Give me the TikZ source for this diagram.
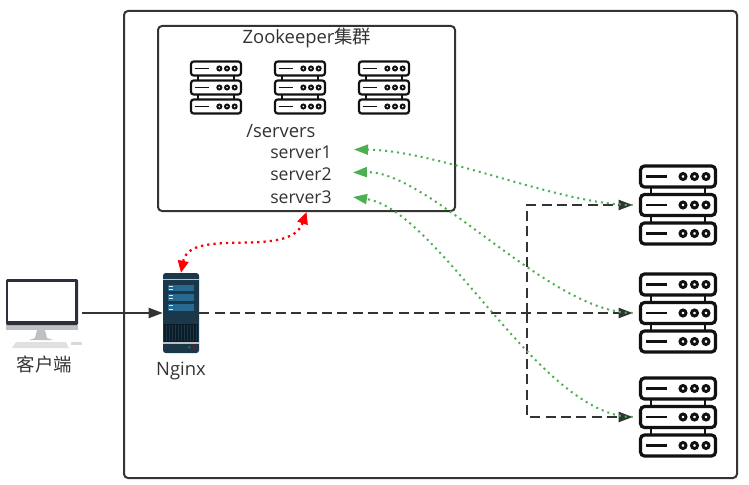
\documentclass[tikz,border=0pt]{standalone}
\usepackage{xcolor}
\usepackage{fontspec}
\setmainfont{Open Sans}
\newfontfamily\cjk{Noto Sans CJK SC}
\usepackage{tikz}
\usetikzlibrary{arrows.meta, positioning, calc}
\definecolor{mydark}{RGB}{51,51,51}
\definecolor{myblack}{RGB}{17,17,17}
\definecolor{mygreen}{RGB}{76,175,80}
\definecolor{myred}{RGB}{255,0,0}
\definecolor{mynavy}{RGB}{27,56,75}
\definecolor{myblue}{RGB}{40,105,145}
\definecolor{mygrille}{RGB}{12,28,38}
\definecolor{mysilver}{RGB}{190,192,194}
\definecolor{mybezel}{RGB}{45,48,60}
\tikzset{
  box/.style={rectangle, draw=mydark, line width=1.5pt, rounded corners=3pt, inner sep=0pt},
  txt/.style={text=mydark, font=\fontsize{13.8}{15}\selectfont, inner sep=0pt},
  srvtxt/.style={txt, font=\fontsize{13.2}{15}\selectfont, anchor=west},
  bigrack/.style={rectangle, minimum width=58.5pt, minimum height=60.75pt, inner sep=0pt},
  smallrack/.style={rectangle, minimum width=39pt, minimum height=39.75pt, inner sep=0pt},
  arrow/.style={-{Triangle[length=10.5pt,width=7.5pt]}, line width=1.4pt, color=mydark},
  dasharrow/.style={arrow, dash pattern=on 7.5pt off 4pt},
  greenarrow/.style={-{Triangle[length=10.5pt,width=7.5pt]}, color=mygreen, line width=1.5pt,
    dash pattern=on 1.5pt off 3pt},
  redarrow/.style={{Triangle[length=9pt,width=8pt]}-{Triangle[length=9pt,width=8pt]}, color=myred,
    line width=1.7pt, dash pattern=on 1.7pt off 3pt},
  % one rack of three units, drawn in a 78 x 81 frame
  pics/rackicon/.style={code={
    \foreach \uy in {-28.5,0,28.5} {
      \draw[myblack, line width=2.4pt*#1, rounded corners=3pt*#1, fill=white]
        (-37.5*#1,\uy*#1-10.5*#1) rectangle (37.5*#1,\uy*#1+10.5*#1);
      \draw[myblack, line width=2.2pt*#1] (-32*#1,\uy*#1) -- (-11*#1,\uy*#1);
      \foreach \ux in {5,16.5,28} \draw[myblack, line width=2.2pt*#1] (\ux*#1,\uy*#1) circle (3*#1);
    }
    \foreach \uy in {-14.25,14.25} \foreach \ux in {-27,27}
      \draw[myblack, line width=2pt*#1] (\ux*#1,\uy*#1-3*#1) -- (\ux*#1,\uy*#1+3*#1);
  }}
}

\begin{document}
\begin{tikzpicture}[x=0.75pt, y=-0.75pt]
  \useasboundingbox (0,0) rectangle (749,485);
  \node[box, minimum width=459.75pt, minimum height=350.25pt] (frame) at (430.5,244.5) {};
  \node[box, minimum width=222.75pt, minimum height=138.75pt] (cluster) at (306.5,118.5) {};

  \node[txt] (zk) at (307,38) {Zookeeper{\cjk 集群}};
  \node[smallrack] (zk1) at (216,87.5) {};
  \node[smallrack] (zk2) at (300,87.5) {};
  \node[smallrack] (zk3) at (384,87.5) {};
  \pic at (zk1) {rackicon=0.667};
  \pic at (zk2) {rackicon=0.667};
  \pic at (zk3) {rackicon=0.667};

  \node[txt, anchor=west] (path) at (246,131) {/servers};
  \node[srvtxt] (srv1) at (270,152) {server1};
  \node[srvtxt] (srv2) at (270,174) {server2};
  \node[srvtxt] (srv3) at (270,197) {server3};
  \coordinate (in1) at (354,149.5);
  \coordinate (in2) at (353,172.5);
  \coordinate (in3) at (353,197);

  \node[bigrack] (rack1) at (678,205) {};
  \node[bigrack] (rack2) at (678,313) {};
  \node[bigrack] (rack3) at (678,417) {};
  \pic at (rack1) {rackicon=1};
  \pic at (rack2) {rackicon=1};
  \pic at (rack3) {rackicon=1};

  % client
  \node[rectangle, minimum width=54pt, minimum height=52.5pt, inner sep=0pt] (client) at (42,313) {};
  \fill[mysilver] (6,322) rectangle (78,330);
  \fill[mysilver] (37,330) -- (45,330) -- (47,338) -- (53,340) -- (29,340) -- (35,338) -- cycle;
  \fill[mybezel, rounded corners=1pt] (6,279) rectangle (78,325);
  \fill[white] (7.7,282) rectangle (75.3,321);
  \fill[black!12] (12,348) -- (16,342) -- (66,342) -- (69,348) -- cycle;
  \fill[black!15] (71,342) rectangle (82,344.5);
  \node[txt, below=5.5pt of client, xshift=1.8pt] (clientlabel) {\cjk 客户端};

  % nginx
  \node[rectangle, fill=mynavy, rounded corners=2pt, minimum width=27pt, minimum height=60pt, inner sep=0pt] (nginx) at (181,313) {};
  \fill[mysilver] (163,278.5) rectangle (199,280);
  \fill[mysilver] (163,342) rectangle (199,344);
  \fill[myblue] (168,285) rectangle (194,291);
  \fill[myblue] (168,294) rectangle (194,301);
  \fill[myblue] (168,304) rectangle (194,311);
  \foreach \ly in {286.3,289.7,295.3,298.7,305.7,309.7}
    \fill[white!85!myblue] (168.7,\ly-0.5) rectangle (173,\ly+0.5);
  \fill[mygrille] (164,324) rectangle (198,342);
  \foreach \lx in {166,169,...,196}
    \fill[mynavy] (\lx,325) rectangle (\lx+0.9,341);
  \fill[green!60!black] (189.3,347.3) circle (1.3);
  \fill[red!70!black] (194.3,347.3) circle (1.3);
  \node[txt, below=6pt of nginx] (nginxlabel) {Nginx};

  \draw[arrow, shorten <=3pt] (client.east) -- (nginx.west);
  \coordinate (branch) at (527,313);
  \draw[dasharrow, shorten >=4.5pt] (nginx.east) -- (rack2.west);
  \draw[dasharrow, shorten >=4.5pt] (branch) |- (rack1.west);
  \draw[dasharrow, shorten >=4.5pt] (branch) |- (rack3.west);

  \draw[greenarrow, shorten <=4.5pt] (rack1.west) .. controls +(-79,0) and +(86,1) .. (in1);
  \draw[greenarrow, shorten <=4.5pt] (rack2.west) .. controls +(-89,0) and +(76,-2) .. (in2);
  \draw[greenarrow, shorten <=4.5pt] (rack3.west) .. controls +(-99,0) and +(86,13) .. (in3);

  \draw[redarrow] (nginx.north) .. controls +(9,-47) and +(-17,48) .. (cluster.south);
\end{tikzpicture}
\end{document}
